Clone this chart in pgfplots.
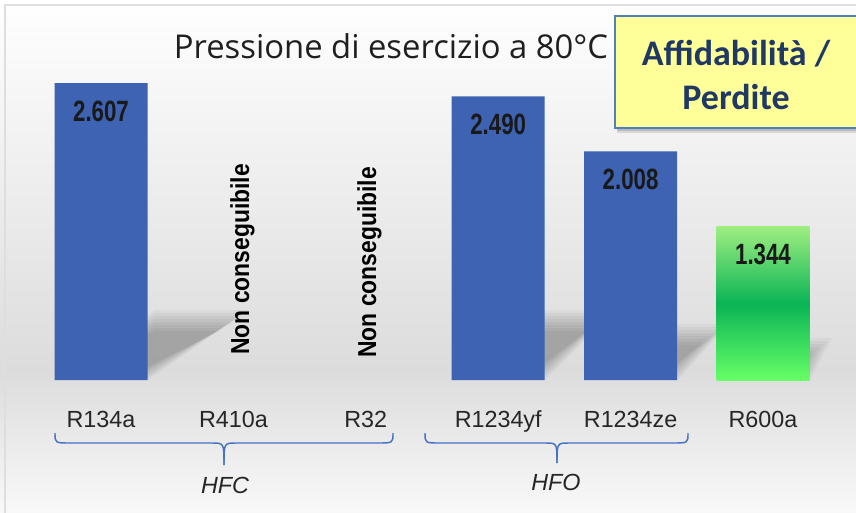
\documentclass[border=0pt]{standalone}
\usepackage{fontspec}
\setmainfont{Liberation Sans}
\newfontfamily\titlefont{Open Sans}
\newfontfamily\boxfont{Carlito}
\usepackage{pgfplots}
\pgfplotsset{compat=1.18}

\definecolor{barblue}{RGB}{61,99,178}
\definecolor{greentop}{RGB}{158,238,128}
\definecolor{greenmid}{RGB}{10,180,85}
\definecolor{greenbot}{RGB}{102,255,102}
\definecolor{bgmid}{RGB}{220,220,220}
\definecolor{bgbot}{RGB}{250,250,250}
\definecolor{framegray}{RGB}{222,222,222}
\definecolor{boxyellow}{RGB}{255,255,153}
\definecolor{boxblue}{RGB}{79,129,189}
\definecolor{boxtext}{RGB}{31,56,100}
\definecolor{braceblue}{RGB}{68,114,196}
\definecolor{labelgray}{RGB}{38,38,38}
\definecolor{shadowout}{RGB}{215,215,215}
\definecolor{shadowin}{RGB}{185,185,185}

\begin{document}
\begin{tikzpicture}
% page = 856x513 px, 1 px = 0.75pt
\useasboundingbox (0,0) rectangle (642pt,-384.75pt);
\begin{scope}[x=0.75pt,y=-0.75pt]
  \shade[top color=white, bottom color=bgmid] (0,0) rectangle (870,370);
  \shade[top color=bgmid, bottom color=bgbot] (0,370) rectangle (870,520);
  \draw[framegray, line width=1.5pt] (5,520) -- (5,5) -- (870,5);
  % soft floor shadows behind the bars
  \foreach \xa/\xb/\dx/\hh in {55/148/100/70, 452/545/70/70, 585/678/50/56, 716/810/22/42} {
    \foreach \k in {0,...,7} {
      \fill[black, opacity=0.035] (\xa,380) -- (\xb-2*\k,380-\k)
        -- (\xb+\dx-4*\k,380-\hh+3*\k) -- (\xa+\dx,380-\hh+3*\k) -- cycle;
    }
  }
\end{scope}

\begin{axis}[
    at={(75.75pt,-285pt)}, anchor=origin,
    scale only axis,
    width=595.8pt, height=281.9pt,
    xmin=-0.5, xmax=5.5,
    ymin=0, ymax=3.3,
    clip=false,
    axis line style={draw=none},
    ytick=\empty,
    xtick={0,...,5},
    xticklabels={R134a,R410a,R32,R1234yf,R1234ze,R600a},
    major tick length=0pt,
    x tick label style={font=\fontsize{17.5}{20}\selectfont, text=labelgray,
      anchor=base, yshift=-35.25pt},
    ybar, bar width=69.75pt, bar shift=0pt,
    point meta=explicit symbolic,
    nodes near coords={\scalebox{0.76}[1]{\pgfplotspointmeta}},
    every node near coord/.append style={anchor=center, yshift=-21pt,
      font=\bfseries\fontsize{22}{24}\selectfont, text=black!90},
  ]
  \addplot[draw=none, fill=barblue] coordinates {(0,2.607)[2.607] (3,2.490)[2.490] (4,2.008)[2.008]};
  \addplot[draw=none, top color=greentop, bottom color=greenbot, middle color=greenmid]
    coordinates {(5,1.344)[1.344]};
\end{axis}

\begin{scope}[x=0.75pt,y=-0.75pt]
  \node[font=\titlefont\fontsize{24.6}{28}\selectfont, text=black!88, anchor=base]
    at (391,59) {Pressione di esercizio a 80°C};
  \node[rotate=90, anchor=base west, font=\bfseries\fontsize{19.5}{22}\selectfont, inner sep=0pt]
    at (249,355) {\scalebox{0.88}[1]{Non conseguibile}};
  \node[rotate=90, anchor=base west, font=\bfseries\fontsize{19.5}{22}\selectfont, inner sep=0pt]
    at (376,358) {\scalebox{0.88}[1]{Non conseguibile}};
  % braces
  \begin{scope}[braceblue, line width=1.1pt]
    \draw (55,433) .. controls (55,443) .. (70,443) -- (212,443) .. controls (224,443) .. (224,465);
    \draw (224,465) .. controls (224,443) .. (236,443) -- (378,443) .. controls (393,443) .. (393,433);
    \draw (425,433) .. controls (425,443) .. (440,443) -- (545,443) .. controls (557,443) .. (557,463);
    \draw (557,463) .. controls (557,443) .. (569,443) -- (673,443) .. controls (688,443) .. (688,433);
  \end{scope}
  \node[font=\itshape\fontsize{17.5}{20}\selectfont, text=labelgray, anchor=base] at (225,493) {HFC};
  \node[font=\itshape\fontsize{17.5}{20}\selectfont, text=labelgray, anchor=base] at (556,490) {HFO};
  % yellow note box, running off the right edge
  \fill[shadowout] (617,18) rectangle (875,133);
  \fill[shadowin] (617,18) rectangle (875,131);
  \fill[boxyellow] (615,16) rectangle (875,128);
  \draw[boxblue, line width=1.5pt] (875,16) -- (615,16) -- (615,128) -- (875,128);
  \node[font=\boxfont\bfseries\fontsize{27}{33}\selectfont, text=boxtext, align=center]
    at (736,75) {Affidabilità /\\Perdite};
\end{scope}
\end{tikzpicture}
\end{document}
